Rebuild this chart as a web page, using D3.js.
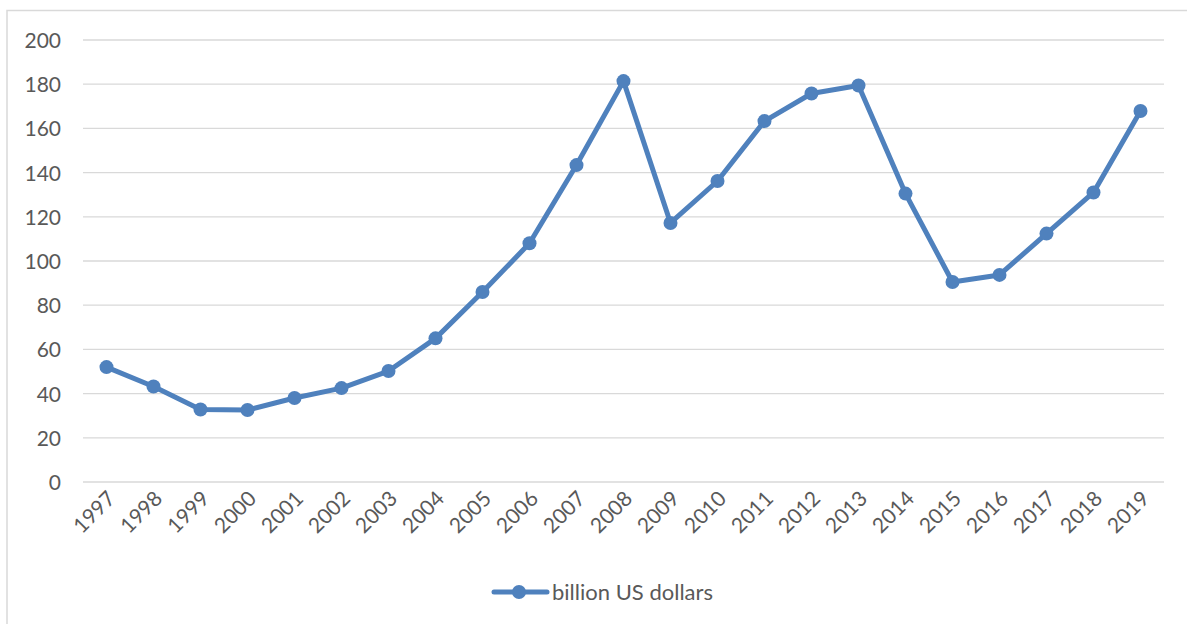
<!DOCTYPE html>
<html lang="en">
<head>
<meta charset="UTF-8">
<title>billion US dollars</title>
<script src="https://cdn.jsdelivr.net/npm/d3@7"></script>
<style>
    body { margin: 0; background: #fff; }
    svg { display: block; }
    .tick text { font-family: Lato, "Open Sans", sans-serif; fill: #595959; }
</style>
</head>
<body>
<svg width="1187" height="624"></svg>
<script>
    const years = ["1997", "1998", "1999", "2000", "2001", "2002", "2003", "2004", "2005", "2006", "2007", "2008",
        "2009", "2010", "2011", "2012", "2013", "2014", "2015", "2016", "2017", "2018", "2019"];
    const values = [52, 43.2, 32.8, 32.6, 38, 42.5, 50.2, 65, 86, 108, 143.4, 181.4,
        117.2, 136.2, 163.3, 175.8, 179.4, 130.5, 90.5, 93.7, 112.4, 131, 167.9];
    const yTicks = [0, 20, 40, 60, 80, 100, 120, 140, 160, 180, 200];
    const seriesName = "billion US dollars";

    const svg = d3.select("svg");
    const color = "#4f81bd";

    // chart frame (left and top edges visible)
    svg.append("path")
        .attr("d", "M7,624 V10.5 H1187")
        .attr("fill", "none")
        .attr("stroke", "#d9d9d9")
        .attr("stroke-width", 1.5);

    const x = d3.scaleBand().domain(years).range([83, 1164]);
    const y = d3.scaleLinear().domain([0, 200]).range([482, 40]);

    // gridlines
    svg.append("g")
        .selectAll("line")
        .data(yTicks)
        .join("line")
        .attr("x1", 83).attr("x2", 1164)
        .attr("y1", d => y(d)).attr("y2", d => y(d))
        .attr("stroke", "#d9d9d9")
        .attr("stroke-width", 1.3);

    // y axis labels
    const yAxis = svg.append("g")
        .attr("transform", "translate(61,0)")
        .call(d3.axisLeft(y).tickValues(yTicks).tickSize(0).tickPadding(0));
    yAxis.select(".domain").remove();
    yAxis.selectAll("text").attr("font-size", 21).attr("dy", "0.36em");

    // x axis labels
    const xAxis = svg.append("g")
        .attr("transform", "translate(0,482)")
        .call(d3.axisBottom(x).tickSize(0).tickPadding(0));
    xAxis.select(".domain").remove();
    xAxis.selectAll("text")
        .attr("font-size", 21)
        .attr("text-anchor", "end")
        .attr("dy", null)
        .attr("y", 0)
        .attr("transform", "translate(10,18) rotate(-45)");

    const cx = d => x(d) + x.bandwidth() / 2;

    // line
    const pts = years.map((yr, i) => [cx(yr), y(values[i])]);
    svg.append("path")
        .datum(pts)
        .attr("d", d3.line())
        .attr("fill", "none")
        .attr("stroke", color)
        .attr("stroke-width", 5)
        .attr("stroke-linejoin", "round")
        .attr("stroke-linecap", "round");

    svg.append("g")
        .selectAll("circle")
        .data(pts)
        .join("circle")
        .attr("cx", d => d[0])
        .attr("cy", d => d[1])
        .attr("r", 7)
        .attr("fill", color);

    // legend
    const lg = svg.append("g").attr("transform", "translate(0,592)");
    lg.append("line")
        .attr("x1", 494).attr("x2", 547)
        .attr("stroke", color).attr("stroke-width", 5).attr("stroke-linecap", "round");
    lg.append("circle").attr("cx", 519).attr("r", 7).attr("fill", color);
    lg.append("text")
        .attr("x", 552).attr("dy", "0.36em")
        .attr("font-family", "Lato, 'Open Sans', sans-serif")
        .attr("font-size", 22)
        .attr("fill", "#595959")
        .text(seriesName);
</script>
</body>
</html>
